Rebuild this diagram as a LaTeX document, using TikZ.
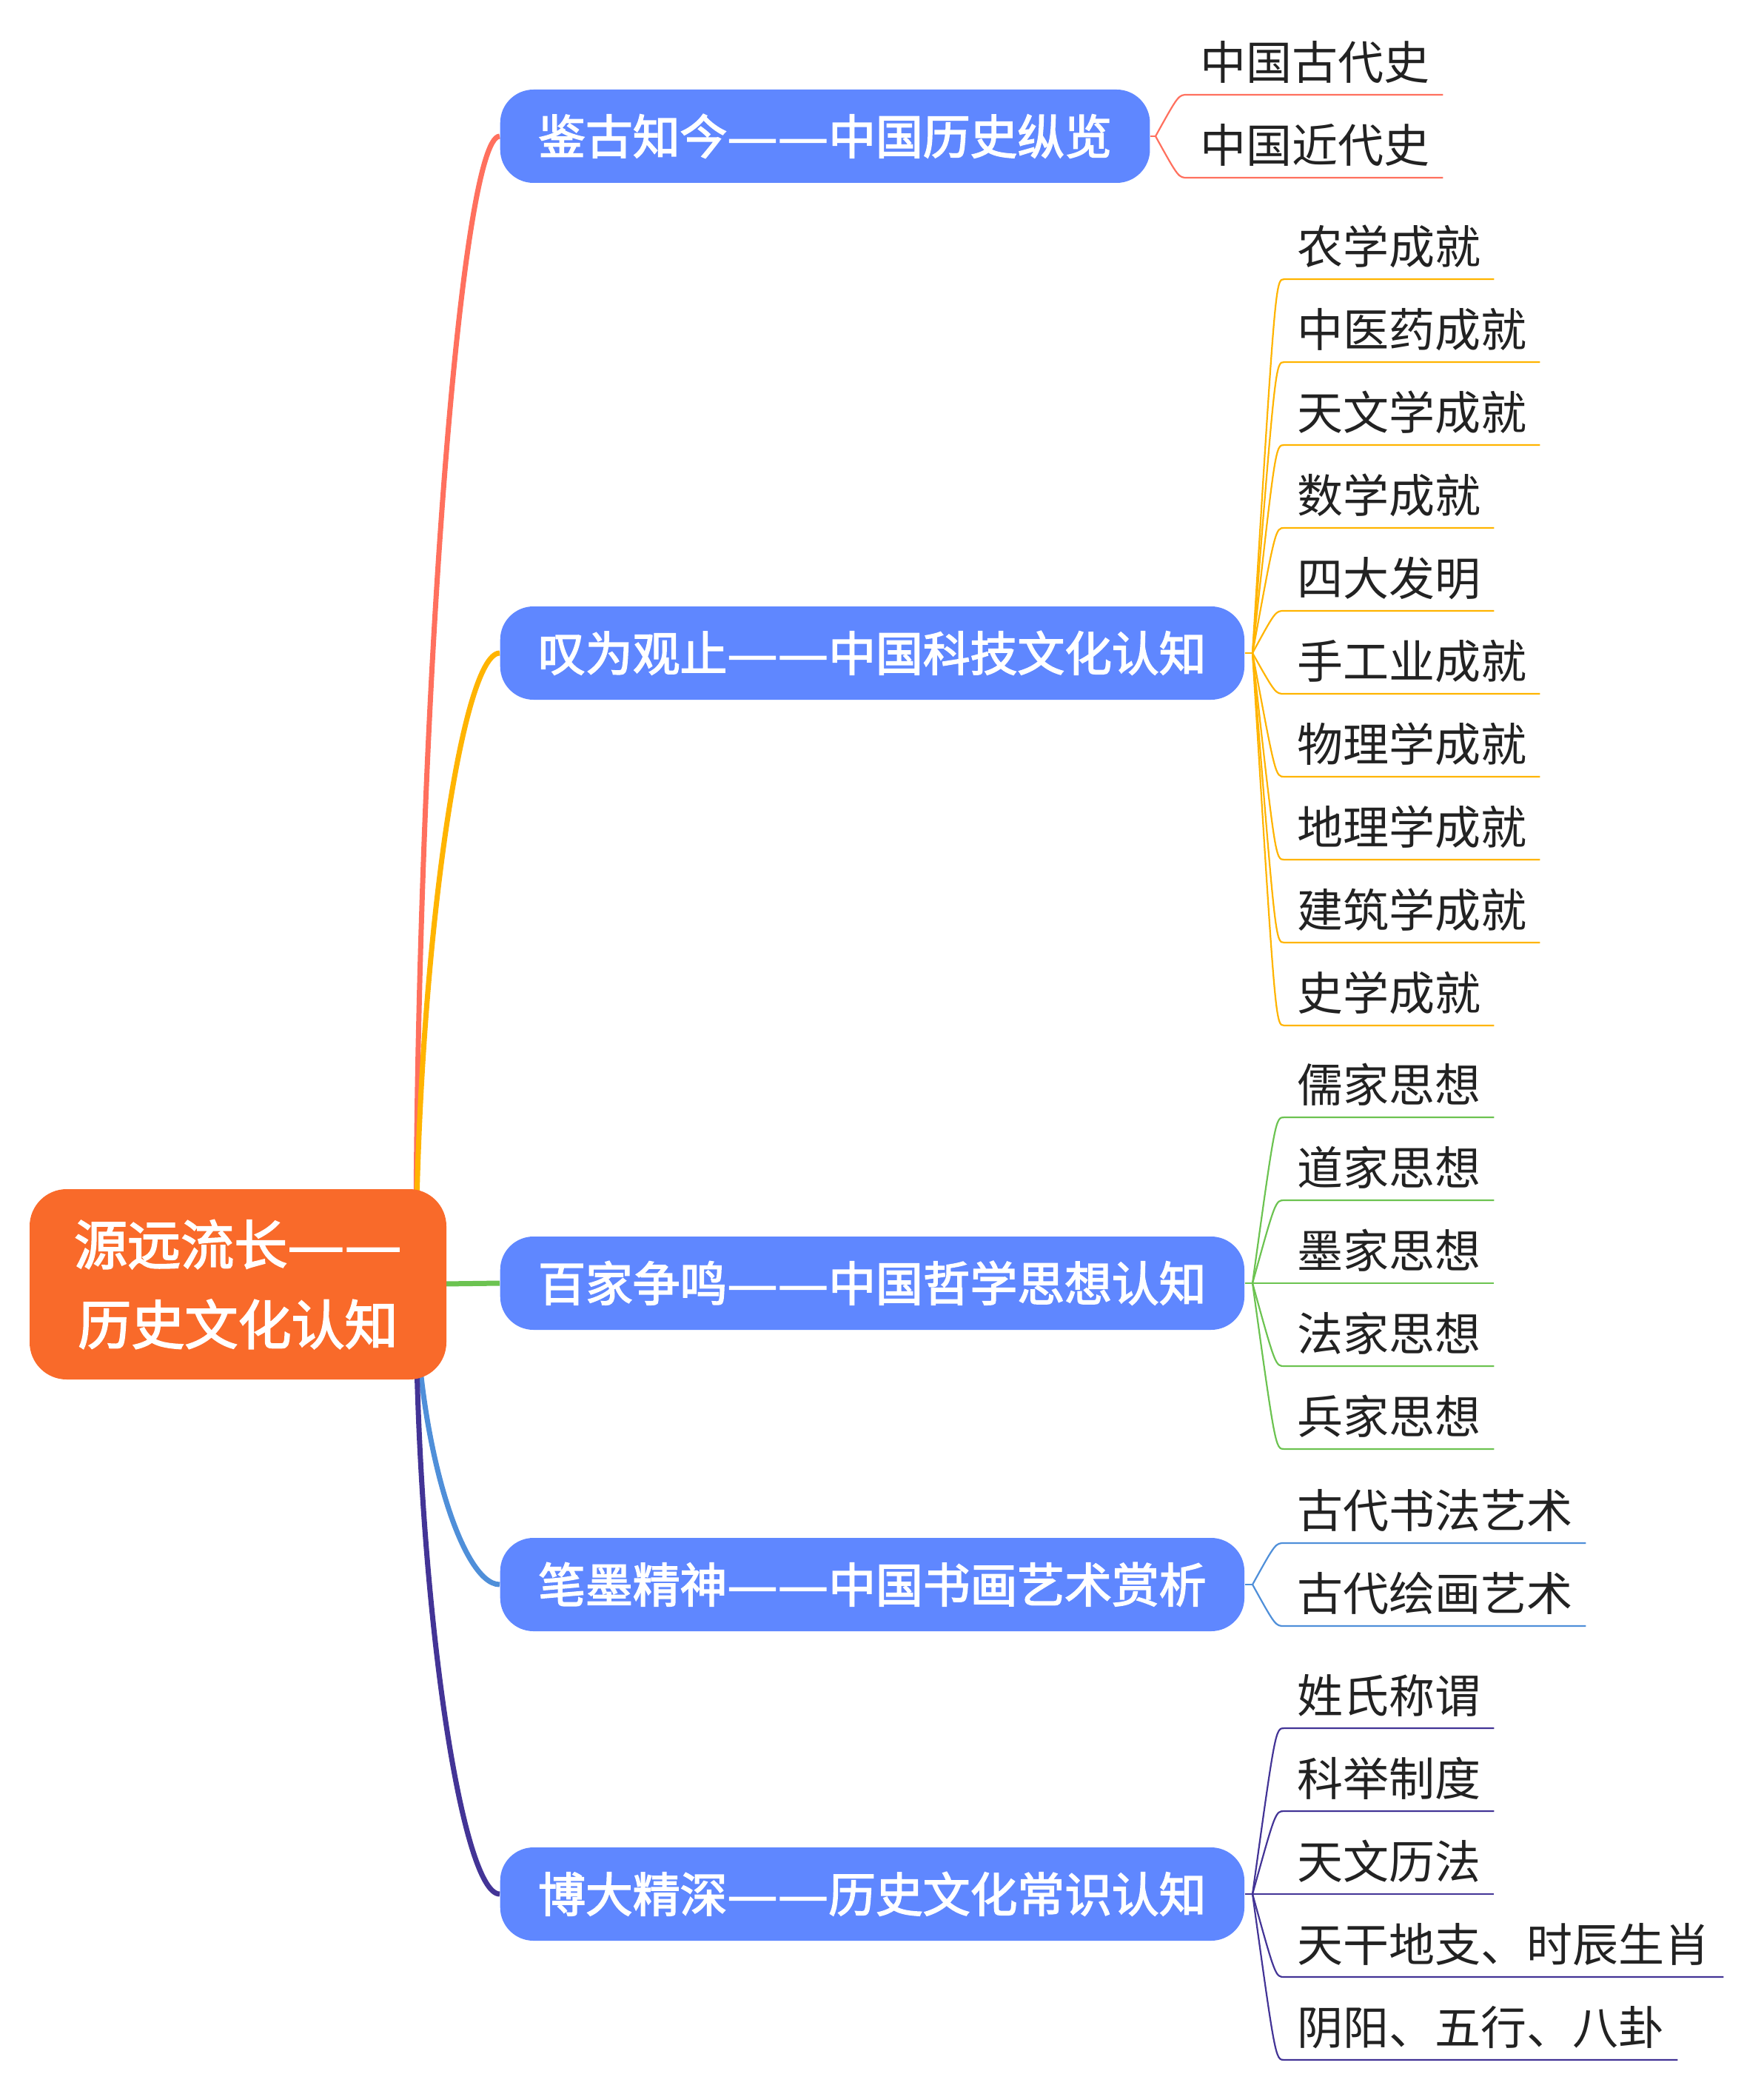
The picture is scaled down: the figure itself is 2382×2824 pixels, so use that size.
\documentclass[tikz,border=0pt]{standalone}
\usepackage{fontspec}
\setmainfont{Noto Sans CJK SC}
\newfontfamily\cjkmid{Noto Sans CJK SC}[FakeBold=2.5]
\usetikzlibrary{calc,backgrounds}
\definecolor{rootor}{HTML}{F96A2A}
\definecolor{topicblue}{HTML}{5F87FF}
\definecolor{leafgray}{HTML}{222222}
\definecolor{brred}{HTML}{FF705E}
\definecolor{bryel}{HTML}{FFB400}
\definecolor{brgrn}{HTML}{6CC351}
\definecolor{brblu}{HTML}{4F8FD9}
\definecolor{brpur}{HTML}{433496}
\newcommand\zd{\scalebox{1.2}[1]{—}}% 全角破折号

\begin{document}
\begin{tikzpicture}[x=0.1mm,y=-0.1mm,
  rootbox/.style={fill=rootor,text=white,rounded corners=5mm,minimum width=56.3mm,minimum height=25.7mm,inner sep=0pt,align=center,
    font=\cjkmid\fontsize{20.5}{30.7}\selectfont,text height=17.14mm,text depth=0.86mm},
  topic/.style={fill=topicblue,text=white,rounded corners=4.5mm,minimum height=12.6mm,inner xsep=5.15mm,inner ysep=0pt,anchor=west,
    font=\cjkmid\fontsize{18.15}{22}\selectfont,text height=5.62mm,text depth=0.77mm},
  leaf/.style={text=leafgray,anchor=south west,inner xsep=1.7mm,inner ysep=0pt,font=\fontsize{17.64}{21}\selectfont,text height=5.5mm,text depth=2mm},
  main/.style={line width=0.7mm},
  twig/.style={line width=0.22mm}]
  \useasboundingbox (0,0) rectangle (2382,2824);
  \node[rootbox] (root) at (321.5,1734.5) {源远流长\zd\zd{}\\历史文化认知};
  \node[topic] (gujin) at (675,184) {鉴古知今\zd\zd{}中国历史纵览};
  \node[topic] (keji) at (675,882) {叹为观止\zd\zd{}中国科技文化认知};
  \node[topic] (zhexue) at (675,1733) {百家争鸣\zd\zd{}中国哲学思想认知};
  \node[topic] (shuhua) at (675,2140) {笔墨精神\zd\zd{}中国书画艺术赏析};
  \node[topic] (changshi) at (675,2558) {博大精深\zd\zd{}历史文化常识认知};
  % 主干连线(放在底层)
  \begin{scope}[on background layer]
    \coordinate (hub) at ($(root.east)+(-42,0)$);
    \draw[main,brred] (hub) .. controls +(0,-775) and +(-53,0) .. (gujin.west);
    \draw[main,bryel] (hub) .. controls +(0,-426) and +(-53,0) .. (keji.west);
    \draw[main,brgrn] (hub) -- (zhexue.west);
    \draw[main,brblu] (hub) .. controls +(0,202) and +(-53,0) .. (shuhua.west);
    \draw[main,brpur] (hub) .. controls +(0,411) and +(-53,0) .. (changshi.west);
  \end{scope}

  \coordinate (fk1) at (1561,184); \draw[twig,brred] (gujin.east) -- (fk1);
  \node[leaf] (g1) at (1604,128) {中国古代史}; \draw[twig,brred] (fk1) .. controls (1592,128) .. (g1.south west) -- (g1.south east);
  \node[leaf] (g2) at (1604,240) {中国近代史}; \draw[twig,brred] (fk1) .. controls (1592,240) .. (g2.south west) -- (g2.south east);

  \coordinate (fk2) at (1692,882); \draw[twig,bryel] (keji.east) -- (fk2);
  \node[leaf] (k1) at (1735,377) {农学成就}; \draw[twig,bryel] (fk2) .. controls (1723,377) .. (k1.south west) -- (k1.south east);
  \node[leaf] (k2) at (1735,489) {中医药成就}; \draw[twig,bryel] (fk2) .. controls (1723,489) .. (k2.south west) -- (k2.south east);
  \node[leaf] (k3) at (1735,601) {天文学成就}; \draw[twig,bryel] (fk2) .. controls (1723,601) .. (k3.south west) -- (k3.south east);
  \node[leaf] (k4) at (1735,713) {数学成就}; \draw[twig,bryel] (fk2) .. controls (1723,713) .. (k4.south west) -- (k4.south east);
  \node[leaf] (k5) at (1735,825) {四大发明}; \draw[twig,bryel] (fk2) .. controls (1723,825) .. (k5.south west) -- (k5.south east);
  \node[leaf] (k6) at (1735,937) {手工业成就}; \draw[twig,bryel] (fk2) .. controls (1723,937) .. (k6.south west) -- (k6.south east);
  \node[leaf] (k7) at (1735,1049) {物理学成就}; \draw[twig,bryel] (fk2) .. controls (1723,1049) .. (k7.south west) -- (k7.south east);
  \node[leaf] (k8) at (1735,1161) {地理学成就}; \draw[twig,bryel] (fk2) .. controls (1723,1161) .. (k8.south west) -- (k8.south east);
  \node[leaf] (k9) at (1735,1273) {建筑学成就}; \draw[twig,bryel] (fk2) .. controls (1723,1273) .. (k9.south west) -- (k9.south east);
  \node[leaf] (k10) at (1735,1385) {史学成就}; \draw[twig,bryel] (fk2) .. controls (1723,1385) .. (k10.south west) -- (k10.south east);

  \coordinate (fk3) at (1692,1733); \draw[twig,brgrn] (zhexue.east) -- (fk3);
  \node[leaf] (z1) at (1735,1509) {儒家思想}; \draw[twig,brgrn] (fk3) .. controls (1723,1509) .. (z1.south west) -- (z1.south east);
  \node[leaf] (z2) at (1735,1621) {道家思想}; \draw[twig,brgrn] (fk3) .. controls (1723,1621) .. (z2.south west) -- (z2.south east);
  \node[leaf] (z3) at (1735,1733) {墨家思想}; \draw[twig,brgrn] (fk3) -- (z3.south west) -- (z3.south east);
  \node[leaf] (z4) at (1735,1845) {法家思想}; \draw[twig,brgrn] (fk3) .. controls (1723,1845) .. (z4.south west) -- (z4.south east);
  \node[leaf] (z5) at (1735,1957) {兵家思想}; \draw[twig,brgrn] (fk3) .. controls (1723,1957) .. (z5.south west) -- (z5.south east);

  \coordinate (fk4) at (1692,2140); \draw[twig,brblu] (shuhua.east) -- (fk4);
  \node[leaf] (s1) at (1735,2084) {古代书法艺术}; \draw[twig,brblu] (fk4) .. controls (1723,2084) .. (s1.south west) -- (s1.south east);
  \node[leaf] (s2) at (1735,2196) {古代绘画艺术}; \draw[twig,brblu] (fk4) .. controls (1723,2196) .. (s2.south west) -- (s2.south east);

  \coordinate (fk5) at (1692,2558); \draw[twig,brpur] (changshi.east) -- (fk5);
  \node[leaf] (c1) at (1735,2334) {姓氏称谓}; \draw[twig,brpur] (fk5) .. controls (1723,2334) .. (c1.south west) -- (c1.south east);
  \node[leaf] (c2) at (1735,2446) {科举制度}; \draw[twig,brpur] (fk5) .. controls (1723,2446) .. (c2.south west) -- (c2.south east);
  \node[leaf] (c3) at (1735,2558) {天文历法}; \draw[twig,brpur] (fk5) -- (c3.south west) -- (c3.south east);
  \node[leaf] (c4) at (1735,2670) {天干地支、时辰生肖}; \draw[twig,brpur] (fk5) .. controls (1723,2670) .. (c4.south west) -- (c4.south east);
  \node[leaf] (c5) at (1735,2782) {阴阳、五行、八卦}; \draw[twig,brpur] (fk5) .. controls (1723,2782) .. (c5.south west) -- (c5.south east);
\end{tikzpicture}
\end{document}
